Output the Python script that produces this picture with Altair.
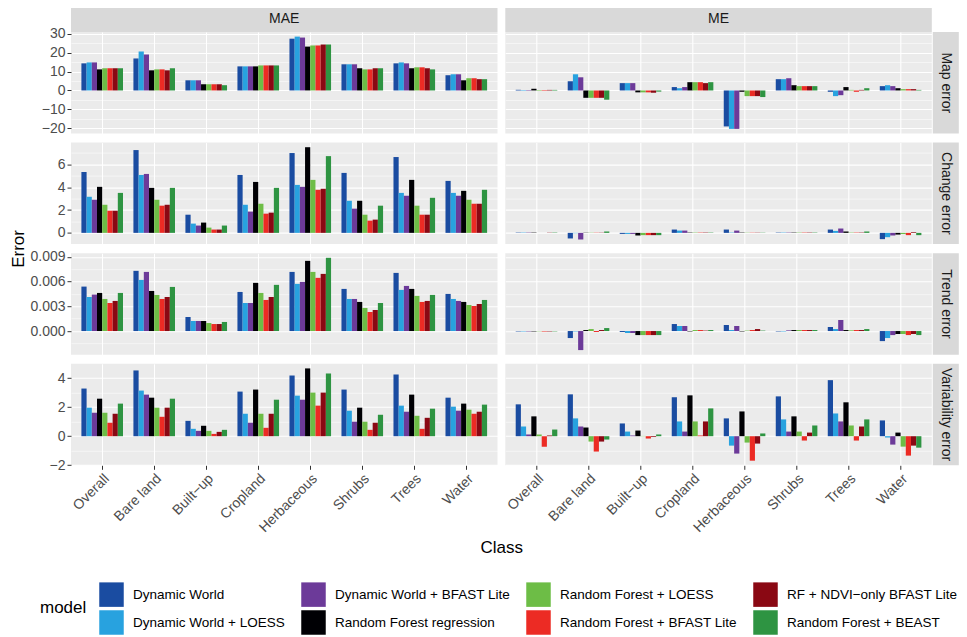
import json
import pandas as pd
import altair as alt

classes = ["Overall", "Bare land", "Built−up", "Cropland", "Herbaceous", "Shrubs", "Trees", "Water"]
models = ["Dynamic World", "Dynamic World + LOESS", "Dynamic World + BFAST Lite",
          "Random Forest regression", "Random Forest + LOESS", "Random Forest + BFAST Lite",
          "RF + NDVI−only BFAST Lite", "Random Forest + BEAST"]
colors = ["#1A4CA1", "#28A2DF", "#6C3A99", "#000004", "#6DBD46", "#EC2B24", "#8A0813", "#2E9442"]
col_labels = ["MAE", "ME"]
row_labels = ["Map error", "Change error", "Trend error", "Variability error"]

# values per class (rows) for each model (columns, in `models` order)
mae_map = [
    [14.4, 14.9, 14.9, 11.2, 11.8, 11.8, 11.8, 11.8],
    [17.0, 20.7, 19.1, 10.7, 11.2, 11.2, 10.7, 11.8],
    [5.4, 5.4, 5.4, 3.3, 3.3, 3.3, 3.3, 2.8],
    [12.8, 12.8, 12.8, 12.8, 13.3, 13.3, 13.3, 13.3],
    [27.5, 28.6, 28.1, 23.3, 23.9, 23.9, 24.4, 24.4],
    [13.9, 13.9, 13.9, 11.8, 11.2, 11.2, 11.8, 11.8],
    [14.4, 14.9, 14.4, 11.8, 12.3, 12.3, 11.8, 11.2],
    [8.1, 8.6, 8.6, 5.4, 6.5, 6.5, 6.0, 6.0],
]
me_map = [
    [0.35, 0.25, 0.25, 0.9, 0.3, 0.3, 0.3, 0.3],
    [4.9, 8.6, 7.0, -3.9, -3.9, -3.9, -3.9, -4.9],
    [3.9, 3.9, 3.9, -1.0, -1.0, -1.0, -1.2, -0.6],
    [1.8, 1.2, 1.8, 4.4, 4.4, 4.4, 3.9, 4.4],
    [-19.1, -20.4, -20.4, -0.7, -3.0, -3.0, -3.0, -3.5],
    [6.0, 6.0, 6.5, 2.8, 2.3, 2.3, 2.3, 2.3],
    [-0.7, -3.0, -2.5, 1.8, 0.3, -0.7, 0.3, 1.2],
    [2.3, 2.8, 2.3, 1.2, 0.7, 0.7, 0.7, 0.3],
]
mae_change = [
    [5.33, 3.16, 2.90, 4.03, 2.46, 1.94, 1.94, 3.50],
    [7.25, 5.07, 5.16, 3.94, 2.90, 2.38, 2.46, 3.94],
    [1.59, 0.81, 0.64, 0.90, 0.46, 0.29, 0.29, 0.64],
    [5.07, 2.46, 1.86, 4.46, 2.55, 1.68, 1.77, 3.94],
    [6.99, 4.20, 4.03, 7.50, 4.64, 3.77, 3.86, 6.72],
    [5.25, 2.81, 2.12, 2.81, 1.59, 1.07, 1.16, 2.38],
    [6.64, 3.50, 3.25, 4.64, 2.38, 1.59, 1.59, 3.07],
    [4.55, 3.50, 3.25, 3.68, 2.90, 2.55, 2.55, 3.77],
]
me_change = [
    [0.03, 0.03, 0.03, 0.03, 0.02, 0.02, 0.02, 0.03],
    [-0.49, -0.03, -0.58, 0.02, 0.02, 0.02, 0.02, 0.12],
    [-0.09, -0.09, -0.09, -0.23, -0.2, -0.2, -0.2, -0.2],
    [0.29, 0.2, 0.2, 0.03, 0.03, 0.03, 0.03, 0.03],
    [0.29, 0.03, 0.2, 0.03, 0.02, 0.02, 0.02, 0.02],
    [0.03, 0.03, 0.03, 0.03, 0.03, 0.03, 0.03, 0.03],
    [0.29, 0.17, 0.38, 0.12, 0.03, 0.03, 0.03, 0.12],
    [-0.55, -0.38, -0.23, -0.15, -0.1, -0.2, 0.06, -0.2],
]
mae_trend = [
    [0.00539, 0.00413, 0.00442, 0.00462, 0.00389, 0.00340, 0.00365, 0.00462],
    [0.00730, 0.00620, 0.00717, 0.00486, 0.00438, 0.00389, 0.00413, 0.00535],
    [0.00170, 0.00122, 0.00122, 0.00122, 0.00097, 0.00085, 0.00085, 0.00110],
    [0.00474, 0.00340, 0.00340, 0.00584, 0.00462, 0.00377, 0.00413, 0.00560],
    [0.00717, 0.00572, 0.00596, 0.00851, 0.00717, 0.00645, 0.00693, 0.00888],
    [0.00511, 0.00389, 0.00389, 0.00353, 0.00280, 0.00231, 0.00255, 0.00340],
    [0.00705, 0.00499, 0.00547, 0.00511, 0.00426, 0.00353, 0.00365, 0.00438],
    [0.00450, 0.00389, 0.00365, 0.00353, 0.00316, 0.00304, 0.00328, 0.00377],
]
me_trend = [
    [-0.00005, -0.00005, -0.00005, -0.00005, -0.00004, -0.00005, -0.00005, -0.00004],
    [-0.00085, -0.00005, -0.00231, 0.00012, 0.00024, -0.00012, 0.00012, 0.00036],
    [-0.00012, -0.00024, -0.00024, -0.00049, -0.00049, -0.00049, -0.00049, -0.00049],
    [0.00085, 0.00061, 0.00061, -0.00005, 0.00012, 0.00012, 0.00005, 0.00012],
    [0.00073, 0.00012, 0.00061, -0.00005, 0.00005, 0.00012, 0.00024, 0.00005],
    [-0.00005, -0.00005, 0.00008, 0.00012, 0.00012, 0.00012, 0.00012, 0.00012],
    [0.00049, 0.00024, 0.00134, 0.00012, 0.00008, 0.00012, 0.00012, 0.00024],
    [-0.00122, -0.00085, -0.00049, -0.00036, -0.00036, -0.00049, -0.00036, -0.00049],
]
mae_var = [
    [3.29, 1.97, 1.62, 2.59, 1.62, 0.93, 1.55, 2.25],
    [4.54, 3.15, 2.87, 2.66, 1.97, 1.34, 1.97, 2.59],
    [1.06, 0.51, 0.37, 0.72, 0.37, 0.16, 0.30, 0.44],
    [3.08, 1.55, 0.93, 3.22, 1.55, 0.58, 1.55, 2.52],
    [4.19, 2.80, 2.52, 4.68, 3.01, 2.11, 3.01, 4.33],
    [3.22, 1.76, 1.00, 1.97, 1.00, 0.44, 0.93, 1.48],
    [4.26, 2.11, 1.69, 2.87, 1.41, 0.51, 1.27, 1.90],
    [2.66, 2.04, 1.76, 2.25, 1.83, 1.55, 1.69, 2.18],
]
me_var = [
    [2.20, 0.67, 0.12, 1.37, 0.12, -0.72, 0.05, 0.46],
    [2.89, 1.23, 0.67, 0.60, -0.37, -1.06, -0.37, -0.23],
    [0.88, 0.32, 0.05, 0.39, 0.02, -0.16, -0.05, 0.12],
    [2.69, 1.02, 0.32, 2.82, 1.02, 0.05, 1.02, 1.92],
    [1.23, -0.65, -1.20, 1.71, -0.44, -1.69, -0.51, 0.19],
    [2.75, 1.16, 0.32, 1.37, 0.32, -0.30, 0.25, 0.74],
    [3.87, 1.57, 1.02, 2.34, 0.74, -0.30, 0.67, 1.16],
    [1.09, -0.09, -0.58, 0.25, -0.72, -1.34, -0.65, -0.79],
]

panel_values = [[mae_map, me_map], [mae_change, me_change], [mae_trend, me_trend], [mae_var, me_var]]
major_ticks = [[-20, -10, 0, 10, 20, 30], [0, 2, 4, 6], [0.0, 0.003, 0.006, 0.009], [-2, 0, 2, 4]]
minor_ticks = [[-15, -5, 5, 15, 25], [1, 3, 5, 7], [-0.0015, 0.0015, 0.0045, 0.0075], [-1, 1, 3, 5]]
formats = ["d", "d", ".3f", "d"]

FONT = "Liberation Sans"
W, H = 426.5, 101.5
HSP, VSP = 7.3, 8.6
STRIP = 27
SW = 26

def frame(vals):
    recs = []
    for ci, c in enumerate(classes):
        for mi, m in enumerate(models):
            recs.append({"class": c, "model": m, "value": vals[ci][mi]})
    return pd.DataFrame(recs)

def row_domain(r):
    allv = [v for tbl in panel_values[r] for row in tbl for v in row]
    lo, hi = min(allv), max(allv)
    pad = 0.05 * (hi - lo)
    return [lo - pad, hi + pad]

color_scale = alt.Scale(domain=models, range=colors)
legend = alt.Legend(orient="none", legendX=-31, legendY=550, columns=4, direction="vertical",
                    title="model", padding=0,
                    titleOrient="left", titleAnchor="middle", titleBaseline="middle", titleFontSize=17,
                    titleFont=FONT, titleFontWeight="normal", titleColor="black", titlePadding=12,
                    labelFont=FONT, labelFontSize=13.5, labelColor="black", labelLimit=400,
                    labelOffset=9, symbolType="square", symbolSize=600, symbolStrokeWidth=0,
                    symbolOpacity=1, rowPadding=3, columnPadding=16)

def panel(r, c):
    df = frame(panel_values[r][c])
    majors, minors = major_ticks[r], minor_ticks[r]
    test = f"indexof({json.dumps(majors)}, datum.value) >= 0"
    left = c == 0
    bottom = r == 3
    yargs = dict(values=sorted(majors + minors), format=formats[r], domain=False,
                 gridColor="white",
                 gridWidth={"condition": {"test": test, "value": 1.1}, "value": 0.5},
                 labels=left, ticks=left, title=None)
    if left:
        yargs.update(labelExpr=f"({test}) ? datum.label : ''",
                     tickOpacity={"condition": {"test": test, "value": 1}, "value": 0})
    if left and r == 1:
        yargs.update(title="Error", titleX=-53, titleY=H + VSP / 2, titleAngle=270,
                     titleAlign="center", titleBaseline="middle")
    xargs = dict(domain=False, grid=True, gridColor="white", gridWidth=1.1, bandPosition=0.5,
                 labels=bottom, ticks=bottom, title=None)
    if bottom:
        xargs.update(labelAngle=-45, labelAlign="right", labelBaseline="top")
        if left:
            xargs.update(title="Class", titleX=W + HSP / 2, titleY=82, titleBaseline="middle",
                         titleAlign="center")
    bars = alt.Chart(df).mark_bar().encode(
        x=alt.X("class:N", sort=classes, scale=alt.Scale(paddingInner=0, paddingOuter=0.1),
                axis=alt.Axis(**xargs)),
        xOffset=alt.XOffset("model:N", sort=models, scale=alt.Scale(paddingInner=0, paddingOuter=1)),
        y=alt.Y("value:Q", stack=None,
                scale=alt.Scale(domain=row_domain(r), nice=False, zero=False),
                axis=alt.Axis(**yargs)),
        color=alt.Color("model:N", scale=color_scale, legend=legend),
    )
    layers = [bars]
    if r == 0:
        sdf = pd.DataFrame({"label": [col_labels[c]]})
        layers.append(alt.Chart(sdf).mark_rect(color="#D9D9D9").encode(
            x=alt.value(0), x2=alt.value(W), y=alt.value(-STRIP), y2=alt.value(0)))
        layers.append(alt.Chart(sdf).mark_text(font=FONT, fontSize=14, color="#1A1A1A").encode(
            text="label:N", x=alt.value(W / 2), y=alt.value(-STRIP / 2)))
    if c == 1:
        sdf = pd.DataFrame({"label": [row_labels[r]]})
        layers.append(alt.Chart(sdf).mark_rect(color="#D9D9D9").encode(
            x=alt.value(W + 1), x2=alt.value(W + 1 + SW), y=alt.value(0), y2=alt.value(H)))
        layers.append(alt.Chart(sdf).mark_text(font=FONT, fontSize=14, color="#1A1A1A", angle=90).encode(
            text="label:N", x=alt.value(W + 1 + SW / 2), y=alt.value(H / 2)))
    return alt.layer(*layers).properties(width=W, height=H)

panels = [panel(r, c) for r in range(4) for c in range(2)]

chart = alt.concat(*panels, columns=2, spacing={"row": VSP, "column": HSP}, bounds="flush").resolve_scale(
    y="independent", x="independent", color="shared"
).properties(
    padding={"left": 0, "top": -3, "right": 0, "bottom": 0}
).configure(background="white").configure_view(
    fill="#EBEBEB", stroke=None
).configure_axis(
    labelFont=FONT, labelFontSize=14, labelColor="#4D4D4D", tickColor="#333333", tickSize=4,
    tickWidth=1, labelPadding=2, titleFont=FONT, titleFontSize=17, titleFontWeight="normal",
    titleColor="black"
)

chart.save("out.html", embed_options={"renderer": "svg", "actions": False})
